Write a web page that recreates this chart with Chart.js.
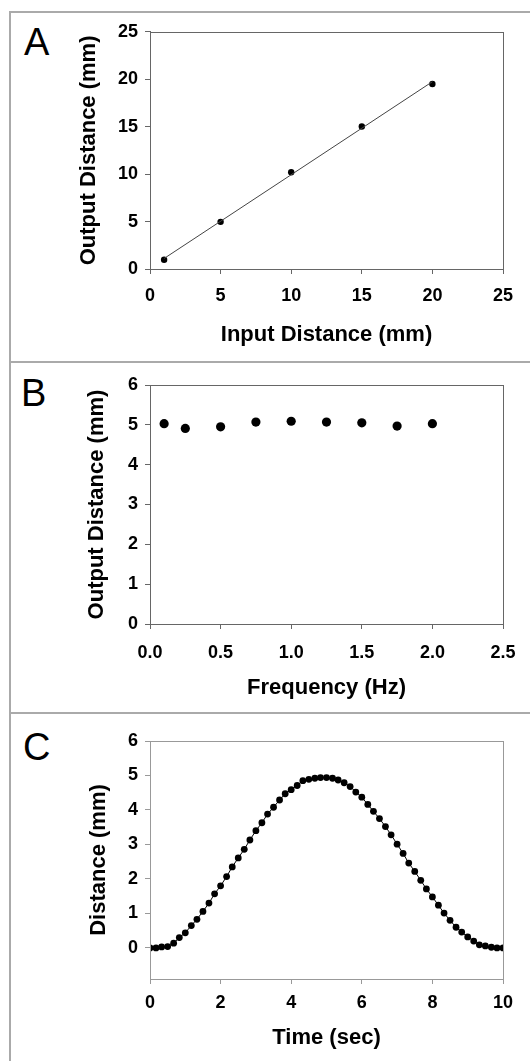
<!DOCTYPE html>
<html>
<head>
<meta charset="utf-8">
<script src="https://cdn.jsdelivr.net/npm/chart.js@4/dist/chart.umd.min.js"></script>
<style>
  body { margin: 0; background: #fff; width: 530px; height: 1061px; overflow: hidden; position: relative; }
  .frame { position: absolute; left: 9px; top: 11px; width: 540px; height: 1070px; border-left: 2px solid #aaa; border-top: 2px solid #aaa; }
  .divider { position: absolute; left: 9px; width: 540px; height: 2px; background: #aaa; }
  .letter { position: absolute; font-family: 'Liberation Sans', Arial, sans-serif; font-size: 38px; line-height: 1; color: #000; }
  canvas { position: absolute; left: 12px; }
</style>
</head>
<body>
<div class="frame"></div>
<div class="divider" style="top:361px"></div>
<div class="divider" style="top:712px"></div>
<div class="letter" style="left:24px; top:23px">A</div>
<div class="letter" style="left:21px; top:374px">B</div>
<div class="letter" style="left:23px; top:728px">C</div>
<canvas id="chartA" width="518" height="346" style="top:14px"></canvas>
<canvas id="chartB" width="518" height="346" style="top:364px"></canvas>
<canvas id="chartC" width="518" height="347" style="top:714px"></canvas>
<script>
// Panel A - input vs output distance
const inputDistance = [1, 5, 10, 15, 20];
const outputDistance = [0.98, 4.97, 10.19, 15.02, 19.50];

// Panel B - output distance at each frequency
const frequencyHz = [0.1, 0.25, 0.5, 0.75, 1.0, 1.25, 1.5, 1.75, 2.0];
const freqOutput = [5.03, 4.91, 4.95, 5.07, 5.09, 5.07, 5.05, 4.97, 5.03];

// Panel C - distance over time
const timeSec = [0, 0.17, 0.33, 0.5, 0.67, 0.83, 1, 1.17, 1.33, 1.5,
  1.67, 1.83, 2, 2.17, 2.33, 2.5, 2.67, 2.83, 3, 3.17,
  3.33, 3.5, 3.67, 3.83, 4, 4.17, 4.33, 4.5, 4.67, 4.83,
  5, 5.17, 5.33, 5.5, 5.67, 5.83, 6, 6.17, 6.33, 6.5,
  6.67, 6.83, 7, 7.17, 7.33, 7.5, 7.67, 7.83, 8, 8.17,
  8.33, 8.5, 8.67, 8.83, 9, 9.17, 9.33, 9.5, 9.67, 9.83, 10];
const timeDistance = [0, 0, 0.03, 0.04, 0.14, 0.30, 0.44, 0.65, 0.83, 1.06,
  1.30, 1.57, 1.80, 2.07, 2.35, 2.61, 2.86, 3.13, 3.40, 3.63,
  3.88, 4.08, 4.29, 4.47, 4.59, 4.71, 4.85, 4.89, 4.92, 4.94,
  4.94, 4.92, 4.87, 4.79, 4.68, 4.52, 4.37, 4.16, 3.96, 3.75,
  3.52, 3.28, 3.01, 2.74, 2.46, 2.22, 1.96, 1.71, 1.48, 1.24,
  1.01, 0.80, 0.60, 0.46, 0.32, 0.20, 0.09, 0.06, 0.02, 0, 0];

Chart.defaults.font.family = "'Liberation Sans', Arial, sans-serif";
Chart.defaults.font.weight = 'bold';
Chart.defaults.color = '#000';

const toPoints = (xs, ys) => xs.map((x, i) => ({ x: x, y: ys[i] }));

// least squares trendline for panel A
function trendline(xs, ys) {
  const n = xs.length;
  const mx = xs.reduce((a, b) => a + b, 0) / n;
  const my = ys.reduce((a, b) => a + b, 0) / n;
  let num = 0, den = 0;
  xs.forEach((x, i) => { num += (x - mx) * (ys[i] - my); den += (x - mx) * (x - mx); });
  const slope = num / den;
  const x0 = Math.min(...xs), x1 = Math.max(...xs);
  return [{ x: x0, y: my + slope * (x0 - mx) }, { x: x1, y: my + slope * (x1 - mx) }];
}

// box around the plot area (top and right edges)
const plotBox = {
  id: 'plotBox',
  afterDraw(chart, args, opts) {
    const { ctx, chartArea: a } = chart;
    ctx.save();
    ctx.strokeStyle = opts.color;
    ctx.lineWidth = 1;
    ctx.strokeRect(Math.round(a.left) + 0.5, Math.round(a.top) + 0.5, Math.round(a.right - a.left), Math.round(a.bottom - a.top));
    ctx.restore();
  }
};

function makeOptions(p) {
  return {
    responsive: false,
    animation: false,
    layout: { padding: { left: p.padLeft, top: p.padTop, right: 27, bottom: 0 } },
    plugins: { legend: { display: false }, tooltip: { enabled: false }, plotBox: { color: p.axisColor } },
    scales: {
      x: {
        type: 'linear',
        min: p.xMin, max: p.xMax,
        afterFit: s => { s.height = p.xHeight; },
        border: { display: true, color: p.axisColor, width: 1 },
        grid: { drawOnChartArea: false, drawTicks: true, tickLength: 5, color: p.axisColor },
        ticks: {
          stepSize: p.xStep, padding: p.xTickPad, font: { size: 18, weight: 'bold' },
          callback: v => p.xDecimals ? v.toFixed(p.xDecimals) : v
        },
        title: { display: true, text: p.xTitle, font: { size: 22, weight: 'bold' }, padding: { top: 0, bottom: p.xTitlePad } }
      },
      y: {
        type: 'linear',
        min: p.yMin, max: p.yMax,
        afterFit: s => { s.width = p.yWidth; },
        border: { display: true, color: p.axisColor, width: 1 },
        grid: {
          drawOnChartArea: false, drawTicks: true, tickLength: 5,
          color: ctx => (ctx.tick && ctx.tick.value < 0) ? 'rgba(0,0,0,0)' : p.axisColor
        },
        ticks: {
          stepSize: p.yStep, padding: 7, font: { size: 18, weight: 'bold' },
          callback: v => v < 0 ? '' : v
        },
        title: { display: true, text: p.yTitle, font: { size: 22, weight: 'bold' }, padding: 0 }
      }
    }
  };
}

new Chart(document.getElementById('chartA'), {
  type: 'scatter',
  data: {
    datasets: [
      {
        data: trendline(inputDistance, outputDistance),
        showLine: true, borderColor: '#444', borderWidth: 1, pointRadius: 0
      },
      {
        data: toPoints(inputDistance, outputDistance),
        backgroundColor: '#000', borderWidth: 0, pointRadius: 3.2
      }
    ]
  },
  options: makeOptions({
    padLeft: 64, padTop: 17, yWidth: 74, xHeight: 91, xTickPad: 11, xTitlePad: 12,
    xMin: 0, xMax: 25, xStep: 5, yMin: 0, yMax: 25, yStep: 5,
    xTitle: 'Input Distance (mm)', yTitle: 'Output Distance (mm)', axisColor: '#666'
  }),
  plugins: [plotBox]
});

new Chart(document.getElementById('chartB'), {
  type: 'scatter',
  data: {
    datasets: [{
      data: toPoints(frequencyHz, freqOutput),
      backgroundColor: '#000', borderWidth: 0, pointRadius: 4.6
    }]
  },
  options: makeOptions({
    padLeft: 72, padTop: 21, yWidth: 66, xHeight: 86, xTickPad: 13, xTitlePad: 9,
    xMin: 0, xMax: 2.5, xStep: 0.5, xDecimals: 1, yMin: 0, yMax: 6, yStep: 1,
    xTitle: 'Frequency (Hz)', yTitle: 'Output Distance (mm)', axisColor: '#666'
  }),
  plugins: [plotBox]
});

new Chart(document.getElementById('chartC'), {
  type: 'scatter',
  data: {
    datasets: [{
      data: toPoints(timeSec, timeDistance),
      showLine: true, borderColor: '#000', borderWidth: 1,
      backgroundColor: '#000', pointBorderWidth: 0, pointRadius: 3.4
    }]
  },
  options: makeOptions({
    padLeft: 74, padTop: 27, yWidth: 64, xHeight: 82, xTickPad: 8, xTitlePad: 10,
    xMin: 0, xMax: 10, xStep: 2, yMin: -0.9, yMax: 6, yStep: 1,
    xTitle: 'Time (sec)', yTitle: 'Distance (mm)', axisColor: '#999'
  }),
  plugins: [plotBox]
});
</script>
</body>
</html>
